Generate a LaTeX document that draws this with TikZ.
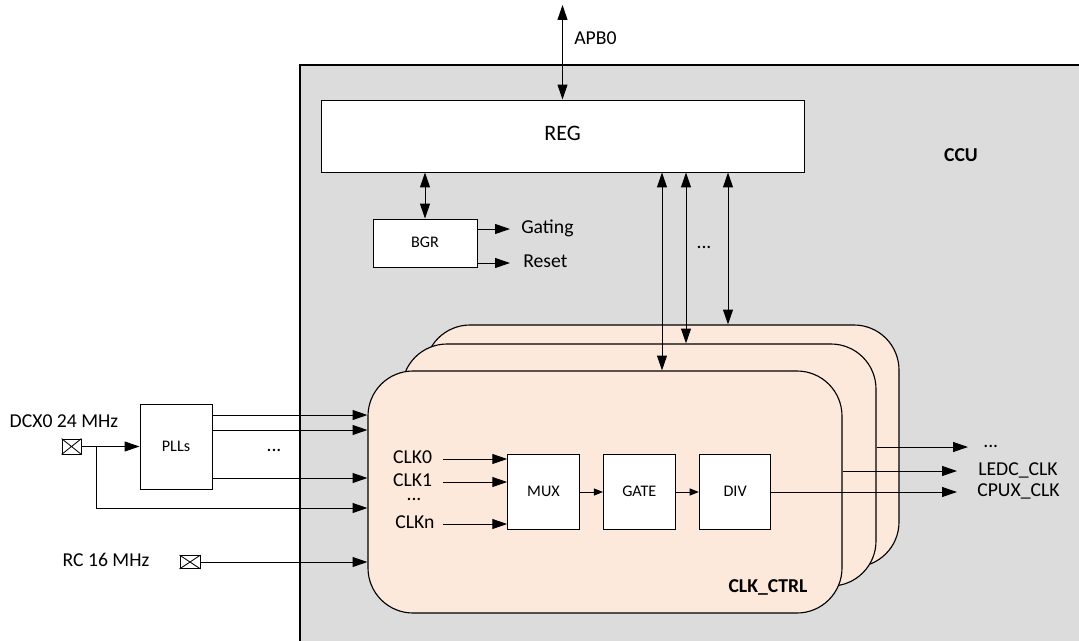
\documentclass[tikz,border=0pt]{standalone}
\usepackage{fontspec}
\setmainfont{Carlito}
\usepackage{tikz}
\usetikzlibrary{arrows.meta,calc,positioning}

\definecolor{ccugray}{HTML}{DCDCDC}
\definecolor{cardfill}{HTML}{FCE9DC}
\def\pxu{0.025cm}

\begin{document}
\begin{tikzpicture}[x=\pxu,y=-\pxu,
  box/.style={draw, fill=white, line width=0.7pt, inner sep=0pt,
    text height=0.64em, text depth=0pt, font=\fontsize{11.5}{13}\selectfont},
  card/.style={draw, fill=cardfill, line width=0.8pt, rounded corners=1.125cm,
    minimum width=474*\pxu, minimum height=242*\pxu},
  lbl/.style={inner sep=0pt, text height=0.64em, text depth=0pt,
    font=\fontsize{14}{16}\selectfont},
  dots/.style={lbl, text height=0.15em, anchor=base},
  title/.style={inner sep=0pt, font=\fontsize{14}{16}\selectfont\bfseries},
  xbox/.style={draw, fill=white, line width=0.6pt, inner sep=0pt},
  arr/.style={line width=0.7pt, -{Triangle[length=10.5pt,width=7pt]}},
  arrs/.style={line width=0.7pt, -{Triangle[length=6.5pt,width=5pt]}},
  biarr/.style={line width=0.7pt,
    {Triangle[length=10.5pt,width=7pt]}-{Triangle[length=10.5pt,width=7pt]}}]
  \def\crossbox#1{\draw[line width=0.6pt] (#1.north west) -- (#1.south east)
    (#1.south west) -- (#1.north east);}
  \useasboundingbox (0,0) rectangle (1079,640);
  \clip (0,0) rectangle (1079,640);
  % CCU
  \draw[fill=ccugray, line width=0.8pt] (300,65) rectangle (1100,660);
  \node[title] (ccu) at (961,155) {CCU};
  % register block
  \node[box, font=\fontsize{15.7}{18}\selectfont,
    minimum width=483*\pxu, minimum height=72*\pxu] (reg) at (562.5,136) {REG};
  \coordinate (apb) at (562.5,5);
  \draw[biarr] (apb) -- (reg.north);
  \node[lbl, anchor=west] (apblbl) at (574,40) {APB0};
  \node[box, minimum width=104*\pxu, minimum height=48*\pxu] (bgr) at (425,243) {BGR};
  \draw[biarr] (bgr.north) -- (bgr.north |- reg.south);
  \node[lbl, anchor=west] (gating) at (521,229) {Gating};
  \node[lbl, anchor=west] (reset) at (523,263) {Reset};
  \draw[arr] (bgr.east |- gating) -- ($(gating.west)+(-11,0)$);
  \draw[arr] (bgr.east |- reset) -- ($(reset.west)+(-13,0)$);
  % clock control cards
  \node[card] (back) at (662,446) {};
  \node[card] (mid) at (639,465) {};
  \node[card] (front) at (605,492) {};
  \node[title] (ctrl) at (768,587) {CLK\_CTRL};
  \coordinate (v1) at (662,0);
  \coordinate (v2) at (686,0);
  \coordinate (v3) at (728,0);
  \draw[biarr] (reg.south -| v1) -- (front.north -| v1);
  \draw[biarr] (reg.south -| v2) -- (mid.north -| v2);
  \draw[biarr] (reg.south -| v3) -- (back.north -| v3);
  \node[dots] (vdots) at (704,248) {...};
  % mux, gate, div
  \node[box, minimum width=1.79cm, minimum height=1.875cm] (mux) at (543.5,492) {MUX};
  \node[box, minimum width=1.79cm, minimum height=1.875cm, right=0.58cm of mux] (gate) {GATE};
  \node[box, minimum width=1.79cm, minimum height=1.875cm, right=0.58cm of gate] (div) {DIV};
  \draw[arrs] (mux) -- (gate);
  \draw[arrs] (gate) -- (div);
  \node[lbl] (clk0) at (412.5,459) {CLK0};
  \node[lbl] (clk1) at (412.5,482) {CLK1};
  \node[dots] (clkdots) at (414,500) {...};
  \node[lbl] (clkn) at (415,524) {CLKn};
  \coordinate (clkx) at (443,0);
  \foreach \c in {clk0,clk1,clkn}
    \draw[arr] (clkx |- \c) -- (mux.west |- \c);
  % outputs
  \node[lbl, anchor=west] (cpux) at (977,492) {CPUX\_CLK};
  \node[lbl, anchor=west] (ledc) at (978,471) {LEDC\_CLK};
  \node[dots, anchor=base west] (outdots) at (983,447) {...};
  \coordinate (odots) at (968,447);
  \draw[arr] (div.east) -- ($(cpux.west)+(-20,0)$);
  \draw[arr] (front.east |- ledc) -- ($(ledc.west)+(-21,0)$);
  \draw[arr] (mid.east |- odots) -- (odots);
  % oscillators and PLLs
  \node[lbl] (dcx) at (64,423) {DCX0 24 MHz};
  \node[xbox, minimum width=19*\pxu, minimum height=15*\pxu] (xin1) at (71.5,446.5) {};
  \node[box, minimum width=72*\pxu, minimum height=85*\pxu] (plls) at (176,446.5) {PLLs};
  \draw[arr] (xin1) -- (plls);
  \coordinate (split) at (96.7,446.5);
  \draw[arr] (split) |- ($(front.west)+(0,16)$);
  \foreach \dy in {-31.5,-16.5,31.5} {
    \path ($(plls.east)+(0,\dy)$) coordinate (pout);
    \draw[arr] (pout) -- (pout -| front.west);
  }
  \node[dots] (pdots) at (274,451) {...};
  \node[lbl] (rc) at (106,562) {RC 16 MHz};
  \node[xbox, minimum width=20*\pxu, minimum height=13*\pxu] (xin2) at (190,562) {};
  \draw[arr] (xin2) -- (xin2 -| front.west);
  \crossbox{xin1}
  \crossbox{xin2}
\end{tikzpicture}
\end{document}
